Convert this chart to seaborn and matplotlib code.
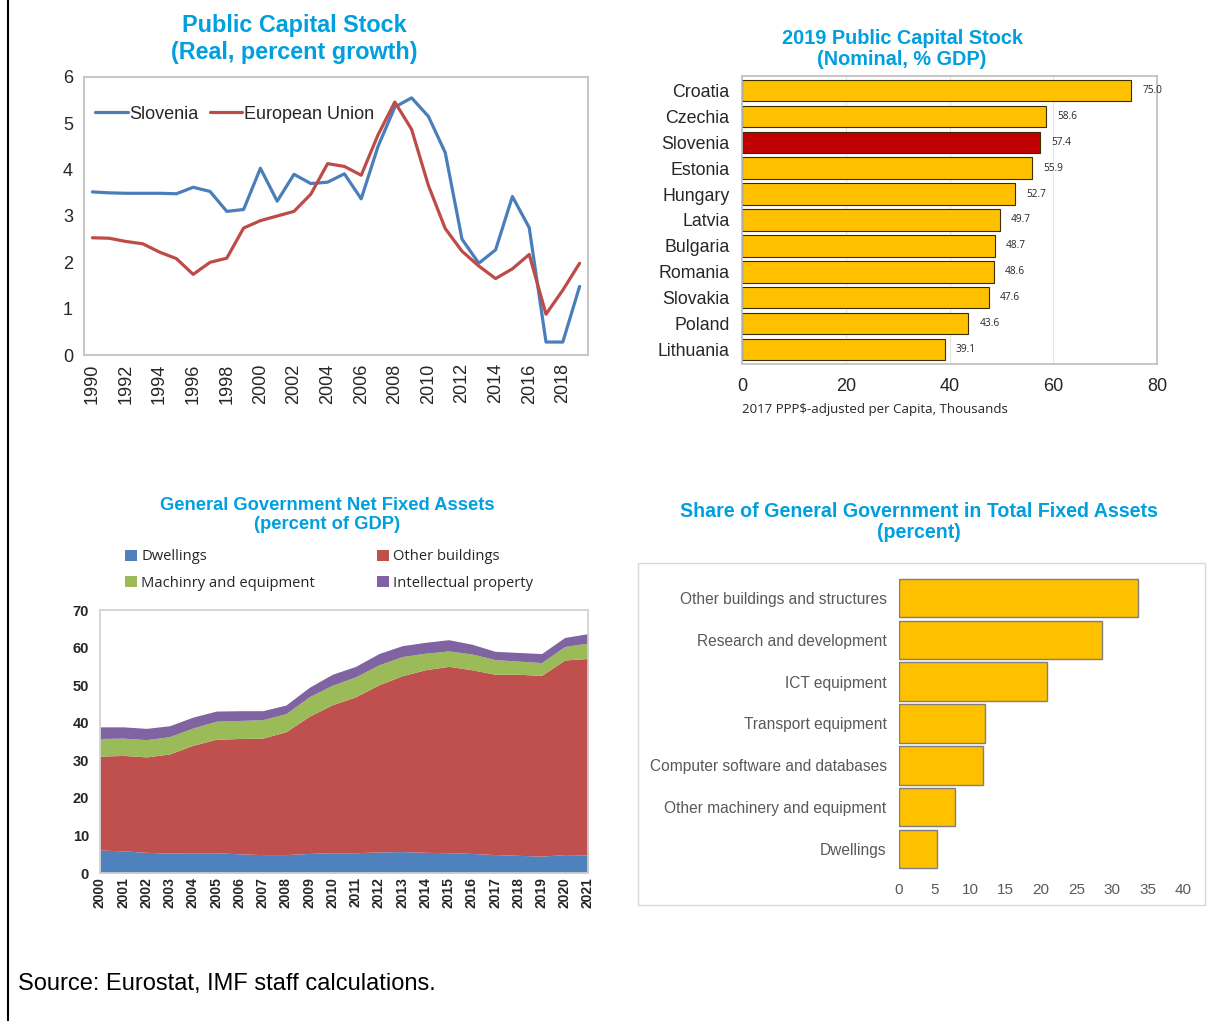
import numpy as np
import pandas as pd
import matplotlib
matplotlib.use("Agg")
import matplotlib.pyplot as plt
from matplotlib.lines import Line2D
from matplotlib.patches import Patch, Rectangle
import seaborn as sns

# ---- data ----
years_line = list(range(1990, 2020))
slovenia = [3.52, 3.50, 3.49, 3.49, 3.49, 3.48, 3.62, 3.53, 3.10, 3.14,
            4.03, 3.32, 3.90, 3.70, 3.73, 3.91, 3.37, 4.50, 5.35, 5.55,
            5.15, 4.37, 2.50, 1.98, 2.27, 3.42, 2.75, 0.28, 0.28, 1.48]
eu = [2.53, 2.52, 2.45, 2.40, 2.22, 2.08, 1.74, 2.00, 2.09, 2.74,
      2.90, 3.00, 3.10, 3.47, 4.13, 4.07, 3.88, 4.75, 5.46, 4.87,
      3.66, 2.73, 2.24, 1.92, 1.65, 1.86, 2.17, 0.88, 1.40, 1.98]

countries = ["Croatia", "Czechia", "Slovenia", "Estonia", "Hungary", "Latvia",
             "Bulgaria", "Romania", "Slovakia", "Poland", "Lithuania"]
stock_2019 = [75.0, 58.6, 57.4, 55.9, 52.7, 49.7, 48.7, 48.6, 47.6, 43.6, 39.1]

years_area = list(range(2000, 2022))
dwellings = [6.1, 5.9, 5.5, 5.3, 5.4, 5.4, 5.1, 4.9, 4.9, 5.2, 5.4,
             5.4, 5.6, 5.7, 5.5, 5.4, 5.2, 4.9, 4.7, 4.5, 4.9, 4.8]
other_buildings = [25.0, 25.4, 25.4, 26.4, 28.6, 30.2, 30.7, 31.0, 32.7, 36.5, 39.4,
                   41.5, 44.5, 46.8, 48.6, 49.6, 48.9, 48.0, 48.2, 48.1, 51.8, 52.3]
machinery = [4.7, 4.6, 4.6, 4.6, 4.6, 4.8, 4.8, 4.9, 4.8, 5.2, 5.2,
             5.3, 5.3, 5.1, 4.4, 4.1, 4.2, 3.9, 3.5, 3.4, 3.6, 4.1]
intellectual = [3.1, 3.0, 3.0, 2.9, 2.9, 2.7, 2.6, 2.4, 2.3, 2.5, 2.9,
                2.8, 3.0, 2.9, 2.9, 3.0, 2.6, 2.2, 2.3, 2.4, 2.4, 2.5]

asset_types = ["Other buildings and structures", "Research and development",
               "ICT equipment", "Transport equipment",
               "Computer software and databases", "Other machinery and equipment",
               "Dwellings"]
gov_share = [33.7, 28.6, 20.8, 12.1, 11.9, 7.85, 5.3]

# ---- style ----
sns.set_theme(style="white")
plt.rcParams['font.family'] = ['Liberation Sans', 'DejaVu Sans']
TITLE_BLUE = "#009FDF"
YELLOW = "#FFC000"
SEGOE = ["Open Sans", "DejaVu Sans"]

W, H = 1223, 1021
fig = plt.figure(figsize=(W / 100, H / 100), dpi=100)


def px(l, t, r, b):
    return [l / W, 1 - b / H, (r - l) / W, (b - t) / H]


def fx(x):
    return x / W


def fy(y):
    return 1 - y / H


# left border line
fig.add_artist(Line2D([fx(8), fx(8)], [0, 1], color="black", lw=1.5))

# ---- top-left: line chart ----
ax1 = fig.add_axes(px(84, 77, 588, 355))
df_line = pd.DataFrame({"year": years_line * 2,
                        "value": slovenia + eu,
                        "series": ["Slovenia"] * len(years_line) + ["European Union"] * len(years_line)})
sns.lineplot(data=df_line, x="year", y="value", hue="series",
             palette={"Slovenia": "#4A7EBB", "European Union": "#BE4B48"},
             linewidth=2.3, ax=ax1)
ax1.set_xlim(1989.5, 2019.5)
ax1.set_ylim(0, 6)
ax1.set_xticks(range(1990, 2020, 2))
ax1.set_xticks(range(1990, 2020), minor=True)
ax1.set_xticklabels([str(y) for y in range(1990, 2020, 2)], rotation=90, fontsize=13)
ax1.set_yticks(range(0, 7))
ax1.tick_params(axis="y", labelsize=13, length=0, pad=8)
ax1.tick_params(axis="x", which="both", direction="in", length=4, color="#BFBFBF", pad=6)
ax1.set_xlabel("")
ax1.set_ylabel("")
for s in ax1.spines.values():
    s.set_color("#BFBFBF")
ax1.legend(loc="upper left", bbox_to_anchor=(-0.01, 0.955), ncol=2, frameon=False,
           fontsize=13, handlelength=1.8, handletextpad=0.1, columnspacing=0.6)
fig.text(fx(294), fy(39), "Public Capital Stock\n(Real, percent growth)", ha="center", va="center",
         color=TITLE_BLUE, fontsize=16.8, fontweight="bold", linespacing=1.2)

# ---- top-right: horizontal bars ----
ax2 = fig.add_axes(px(742, 76, 1157, 364))
df_bar = pd.DataFrame({"country": countries, "value": stock_2019})
bar_colors = ["#C00000" if c == "Slovenia" else YELLOW for c in countries]
sns.barplot(data=df_bar, y="country", x="value", hue="country", palette=bar_colors,
            legend=False, orient="h", width=0.82, saturation=1,
            edgecolor="#3A2E00", linewidth=0.8, ax=ax2)
ax2.set_xlim(0, 80)
ax2.set_ylim(10.55, -0.55)
ax2.set_xticks([0, 20, 40, 60, 80])
ax2.tick_params(axis="x", labelsize=13, length=0, pad=10)
ax2.tick_params(axis="y", labelsize=12.8, length=0, pad=9)
ax2.xaxis.grid(True, color="#E6E6E6", lw=0.8)
ax2.set_axisbelow(True)
ax2.set_ylabel("")
ax2.set_xlabel("2017 PPP$-adjusted per Capita, Thousands", fontsize=9.5,
               family=SEGOE, labelpad=6, loc="left")
for cont in ax2.containers:
    ax2.bar_label(cont, fmt="%.1f", padding=8, fontsize=7.3, family=SEGOE, color="#262626")
for s in ax2.spines.values():
    s.set_color("#BFBFBF")
fig.text(fx(902), fy(49), "2019 Public Capital Stock\n(Nominal, % GDP)", ha="center", va="center",
         color=TITLE_BLUE, fontsize=14.3, fontweight="bold", linespacing=1.1)

# ---- bottom-left: stacked area ----
ax3 = fig.add_axes(px(100, 610, 588, 873))
area_cols = ["#4F81BD", "#C0504D", "#9BBB59", "#8064A2"]
area_labels = ["Dwellings", "Other buildings", "Machinry and equipment", "Intellectual property"]
ax3.stackplot(years_area, dwellings, other_buildings, machinery, intellectual,
              colors=area_cols, linewidth=0)
ax3.set_xlim(2000, 2021)
ax3.set_ylim(0, 70)
ax3.set_xticks(years_area)
ax3.set_xticklabels([str(y) for y in years_area], rotation=90, fontsize=10, fontweight="bold")
ax3.set_yticks(range(0, 71, 10))
ax3.tick_params(axis="y", labelsize=10.5, length=0, pad=8)
ax3.tick_params(axis="x", direction="in", length=3, color="#BFBFBF", pad=3)
for lab in ax3.get_yticklabels():
    lab.set_fontweight("bold")
for s in ax3.spines.values():
    s.set_color("#D0D0D0")
handles = [Patch(facecolor=c, edgecolor="none") for c in area_cols]
fig.legend([handles[0], handles[2], handles[1], handles[3]],
           [area_labels[0], area_labels[2], area_labels[1], area_labels[3]],
           loc="center left", bbox_to_anchor=(fx(112), fy(570)), ncol=2, frameon=False,
           prop={"family": SEGOE, "size": 10.6},
           handlelength=0.8, handleheight=0.8, handletextpad=0.3, columnspacing=4.2,
           labelspacing=0.75)
fig.text(fx(327), fy(515), "General Government Net Fixed Assets\n(percent of GDP)", ha="center",
         va="center", color=TITLE_BLUE, fontsize=13.2, fontweight="bold", linespacing=1.15)

# ---- bottom-right: share bars ----
fig.add_artist(Rectangle((fx(638), fy(905)), fx(1205) - fx(638), fy(563) - fy(905),
                         transform=fig.transFigure, fill=False, edgecolor="#D9D9D9", lw=1))
ax4 = fig.add_axes(px(899, 577, 1183, 870))
df_share = pd.DataFrame({"asset": asset_types, "share": gov_share})
sns.barplot(data=df_share, y="asset", x="share", color=YELLOW, orient="h", width=0.92,
            saturation=1, edgecolor="#7F7F7F", linewidth=1.0, ax=ax4)
ax4.set_xlim(0, 40)
ax4.set_ylim(6.5, -0.5)
ax4.set_xticks(range(0, 41, 5))
ax4.tick_params(axis="x", labelsize=11, length=0, pad=9, labelcolor="#595959")
ax4.tick_params(axis="y", labelsize=11.2, length=0, pad=9, labelcolor="#595959")
ax4.set_xlabel("")
ax4.set_ylabel("")
for s in ax4.spines.values():
    s.set_visible(False)
fig.text(fx(919), fy(522), "Share of General Government in Total Fixed Assets\n(percent)", ha="center",
         va="center", color=TITLE_BLUE, fontsize=14.1, fontweight="bold", linespacing=1.1)

# ---- source ----
fig.text(fx(18), fy(984), "Source: Eurostat, IMF staff calculations.", ha="left", va="center",
         fontsize=17, color="black")

fig.savefig("out.png", dpi=100)
